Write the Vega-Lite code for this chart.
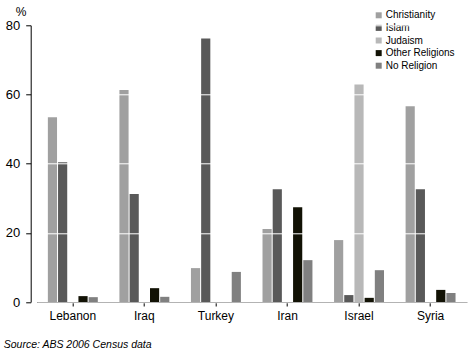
{
  "$schema": "https://vega.github.io/schema/vega-lite/v6.json",
  "autosize": {"type": "none"},
  "padding": {"left": 36.7, "top": 25.3, "right": 5.3, "bottom": 52},
  "width": 430,
  "height": 276.7,
  "background": "white",
  "title": {
    "text": "Source: ABS 2006 Census data",
    "orient": "bottom",
    "anchor": "start",
    "frame": "group",
    "font": "Liberation Sans",
    "fontStyle": "italic",
    "fontWeight": "normal",
    "fontSize": 10.5,
    "color": "#000000",
    "dx": -33,
    "offset": 18
  },
  "data": {
    "values": [
      {"country": "Lebanon", "religion": "Christianity", "pct": 53.4},
      {"country": "Lebanon", "religion": "Islam", "pct": 40.4},
      {"country": "Lebanon", "religion": "Judaism", "pct": 0},
      {"country": "Lebanon", "religion": "Other Religions", "pct": 1.7},
      {"country": "Lebanon", "religion": "No Religion", "pct": 1.4},
      {"country": "Iraq", "religion": "Christianity", "pct": 61.3},
      {"country": "Iraq", "religion": "Islam", "pct": 31.2},
      {"country": "Iraq", "religion": "Judaism", "pct": 0},
      {"country": "Iraq", "religion": "Other Religions", "pct": 4.0},
      {"country": "Iraq", "religion": "No Religion", "pct": 1.5},
      {"country": "Turkey", "religion": "Christianity", "pct": 9.8},
      {"country": "Turkey", "religion": "Islam", "pct": 76.2},
      {"country": "Turkey", "religion": "Judaism", "pct": 0},
      {"country": "Turkey", "religion": "Other Religions", "pct": 0},
      {"country": "Turkey", "religion": "No Religion", "pct": 8.7},
      {"country": "Iran", "religion": "Christianity", "pct": 21.1},
      {"country": "Iran", "religion": "Islam", "pct": 32.6},
      {"country": "Iran", "religion": "Judaism", "pct": 0},
      {"country": "Iran", "religion": "Other Religions", "pct": 27.4},
      {"country": "Iran", "religion": "No Religion", "pct": 12.1},
      {"country": "Israel", "religion": "Christianity", "pct": 17.9},
      {"country": "Israel", "religion": "Islam", "pct": 2.0},
      {"country": "Israel", "religion": "Judaism", "pct": 62.9},
      {"country": "Israel", "religion": "Other Religions", "pct": 1.2},
      {"country": "Israel", "religion": "No Religion", "pct": 9.2},
      {"country": "Syria", "religion": "Christianity", "pct": 56.6},
      {"country": "Syria", "religion": "Islam", "pct": 32.6},
      {"country": "Syria", "religion": "Judaism", "pct": 0},
      {"country": "Syria", "religion": "Other Religions", "pct": 3.5},
      {"country": "Syria", "religion": "No Religion", "pct": 2.6}
    ]
  },
  "mark": {"type": "bar"},
  "encoding": {
    "x": {
      "field": "country",
      "type": "nominal",
      "sort": ["Lebanon", "Iraq", "Turkey", "Iran", "Israel", "Syria"],
      "scale": {"paddingInner": 0.302, "paddingOuter": 0.156},
      "axis": {
        "title": null,
        "labelAngle": 0,
        "labelFont": "Liberation Sans",
        "labelFontSize": 12,
        "labelColor": "#000000",
        "labelPadding": 4.5,
        "tickSize": 4,
        "tickColor": "#000000",
        "domainColor": "#000000",
        "grid": false
      }
    },
    "xOffset": {
      "field": "religion",
      "type": "nominal",
      "sort": ["Christianity", "Islam", "Judaism", "Other Religions", "No Religion"],
      "scale": {"paddingInner": 0.1, "paddingOuter": 0}
    },
    "y": {
      "field": "pct",
      "type": "quantitative",
      "scale": {"domain": [0, 80]},
      "axis": {
        "title": "%",
        "titleAngle": 0,
        "titleFont": "Liberation Sans",
        "titleFontSize": 12,
        "titleFontWeight": "normal",
        "titleColor": "#000000",
        "titleAlign": "center",
        "titleBaseline": "alphabetic",
        "titleX": -10,
        "titleY": -10,
        "values": [0, 20, 40, 60, 80],
        "offset": 6,
        "labelFont": "Liberation Sans",
        "labelFontSize": 13,
        "labelColor": "#000000",
        "labelPadding": 6,
        "tickSize": 5,
        "tickColor": "#000000",
        "domainColor": "#000000",
        "grid": true,
        "gridColor": "#ffffff",
        "gridWidth": 1,
        "gridOpacity": 1,
        "zindex": 1
      }
    },
    "color": {
      "field": "religion",
      "type": "nominal",
      "scale": {
        "domain": ["Christianity", "Islam", "Judaism", "Other Religions", "No Religion"],
        "range": ["#a0a0a0", "#595959", "#b8b8b8", "#121205", "#808080"]
      },
      "legend": {
        "title": null,
        "orient": "none",
        "legendX": 337,
        "legendY": -15,
        "padding": 0,
        "symbolType": "square",
        "symbolSize": 36,
        "symbolStrokeWidth": 0,
        "labelFont": "Liberation Sans",
        "labelFontSize": 10,
        "labelColor": "#000000",
        "labelOffset": 2,
        "rowPadding": 2.6
      }
    }
  },
  "config": {
    "view": {"stroke": null},
    "axis": {"domainWidth": 1, "tickWidth": 1}
  }
}
